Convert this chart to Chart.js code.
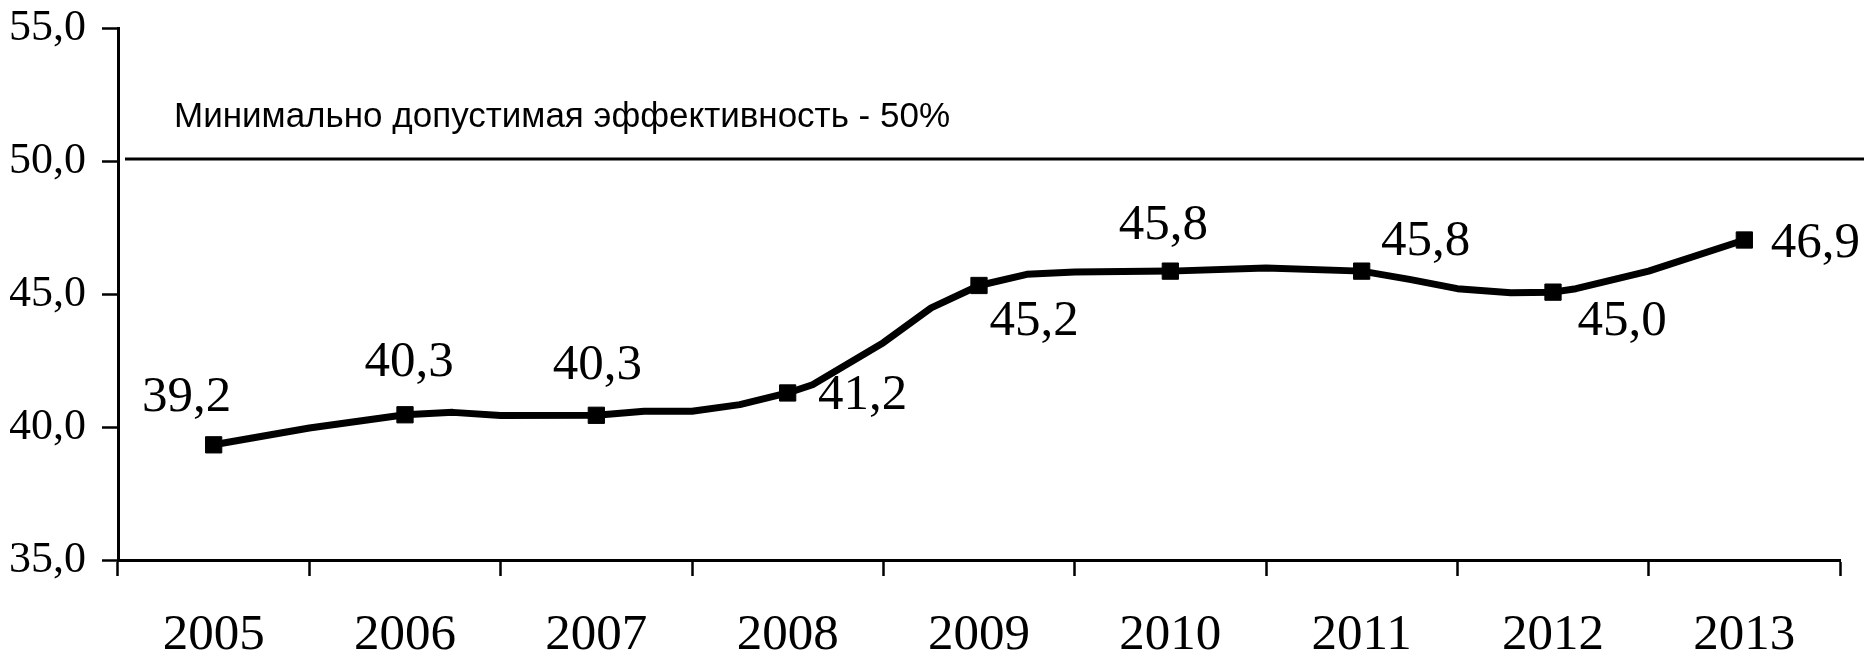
<!DOCTYPE html>
<html lang="ru">
<head>
<meta charset="UTF-8">
<title>Эффективность</title>
<script src="https://cdn.jsdelivr.net/npm/chart.js"></script>
<style>
  html, body { margin: 0; padding: 0; background: #fff; }
</style>
</head>
<body>
<canvas id="chart" width="1864" height="655"></canvas>
<script>
// подписи оси X
const years = ['2005', '2006', '2007', '2008', '2009', '2010', '2011', '2012', '2013'];
// подписи значений у маркеров
const valueLabels = ['39,2', '40,3', '40,3', '41,2', '45,2', '45,8', '45,8', '45,0', '46,9'];
// положение маркеров
const yearValues = [39.33, 40.46, 40.44, 41.28, 45.32, 45.86, 45.86, 45.07, 47.03];
// точки кривой: годы от 2005 и значения
const curveX = [0, 0.5, 1, 1.25, 1.5, 2, 2.25, 2.5, 2.75, 3, 3.13, 3.5, 3.75, 4, 4.25, 4.5, 5, 5.5, 6, 6.25, 6.5, 6.78, 7, 7.12, 7.5, 8];
const curveY = [39.33, 39.96, 40.46, 40.55, 40.43, 40.44, 40.59, 40.59, 40.84, 41.28, 41.59, 43.17, 44.48, 45.32, 45.74, 45.83, 45.86, 45.98, 45.86, 45.55, 45.20, 45.05, 45.07, 45.20, 45.86, 47.03];
const yTicks = [35, 40, 45, 50, 55];
const minLevel = 50;
const minLevelText = 'Минимально допустимая эффективность - 50%';

// смещения подписей относительно маркеров, px
const labelOffsets = [[-27, -47], [4, -52], [1, -50], [75, 3], [55, 36], [-7, -46], [64, -30], [69, 29], [71, 4]];

const serif = '"Liberation Serif", "Times New Roman", serif';

const extras = {
  id: 'extras',
  beforeDatasetsDraw(chart) {
    const ctx = chart.ctx;
    const py = chart.scales.y.getPixelForValue(minLevel) - 2;
    ctx.save();
    ctx.strokeStyle = '#000';
    ctx.lineWidth = 3;
    ctx.beginPath();
    ctx.moveTo(chart.chartArea.left + 7, py);
    ctx.lineTo(chart.width, py);
    ctx.stroke();
    ctx.font = '35px "Liberation Sans", Arial, sans-serif';
    ctx.fillStyle = '#000';
    ctx.textAlign = 'left';
    ctx.textBaseline = 'alphabetic';
    ctx.fillText(minLevelText, chart.chartArea.left + 56, py - 32);
    ctx.restore();
  },
  afterDatasetsDraw(chart) {
    const ctx = chart.ctx;
    const meta = chart.getDatasetMeta(1);
    ctx.save();
    ctx.font = '51px ' + serif;
    ctx.fillStyle = '#000';
    ctx.textAlign = 'center';
    ctx.textBaseline = 'middle';
    meta.data.forEach((pt, i) => {
      const off = labelOffsets[i];
      ctx.fillText(valueLabels[i], pt.x + off[0], pt.y + off[1]);
    });
    ctx.restore();
  }
};

new Chart(document.getElementById('chart').getContext('2d'), {
  type: 'line',
  data: {
    labels: years,
    datasets: [
      {
        data: curveX.map((x, i) => ({ x: x, y: curveY[i] })),
        xAxisID: 'xv',
        borderColor: '#000',
        borderWidth: 7,
        borderJoinStyle: 'round',
        pointRadius: 0,
        tension: 0
      },
      {
        data: yearValues.map((v, i) => ({ x: i, y: v })),
        xAxisID: 'xv',
        showLine: false,
        pointStyle: 'rect',
        pointRadius: 11.5,
        pointBackgroundColor: '#000',
        pointBorderColor: '#000',
        pointBorderWidth: 1
      }
    ]
  },
  options: {
    responsive: false,
    devicePixelRatio: 1,
    animation: false,
    layout: { padding: { top: 28, left: 10, right: 24, bottom: 0 } },
    plugins: { legend: { display: false }, tooltip: { enabled: false } },
    scales: {
      x: {
        type: 'category',
        position: 'bottom',
        offset: true,
        grid: { offset: true, drawOnChartArea: false, tickLength: 16, tickWidth: 2.5, tickColor: '#000' },
        border: { display: true, color: '#000', width: 3 },
        ticks: { color: '#000', font: { family: serif, size: 51 }, padding: 29, maxRotation: 0, autoSkip: false },
        afterFit(s) { s.height = 95; }
      },
      xv: { type: 'linear', axis: 'x', position: 'bottom', display: false, min: -0.5, max: 8.5 },
      y: {
        min: 35,
        max: 55,
        afterBuildTicks(s) { s.ticks = yTicks.map(v => ({ value: v })); },
        ticks: {
          color: '#000',
          font: { family: serif, size: 44 },
          padding: 16,
          callback: v => v.toFixed(1).replace('.', ',')
        },
        grid: { drawOnChartArea: false, tickLength: 16, tickWidth: 2.5, tickColor: '#000' },
        border: { display: true, color: '#000', width: 3 },
        afterFit(s) {
          s.width = 108;
          s.paddingTop = 0;
          s.paddingBottom = 0;
        }
      }
    }
  },
  plugins: [extras]
});
</script>
</body>
</html>
